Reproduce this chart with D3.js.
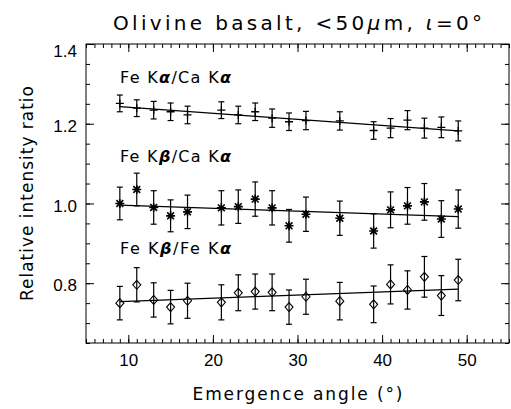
<!DOCTYPE html>
<html>
<head>
<meta charset="utf-8">
<script src="https://cdn.jsdelivr.net/npm/d3@7"></script>
<style>
  body { margin: 0; background: #fff; }
  svg { display: block; font-family: 'DejaVu Sans', sans-serif; }
  .axis path { display: none; }
  .axis line { stroke: #000; stroke-width: 1; }
  .axis text { font-size: 17px; fill: #000; }
</style>
</head>
<body>
<div class="graph"></div>
<script>
// emergence angles (deg)
const angles = [9, 11, 13, 15, 17, 21, 23, 25, 27, 29, 31, 35, 39, 41, 43, 45, 47, 49];

// Fe Ka / Ca Ka
const feKaCaKa = [1.251, 1.239, 1.234, 1.230, 1.222, 1.234, 1.222, 1.230, 1.214, 1.205, 1.208, 1.207, 1.183, 1.189, 1.209, 1.189, 1.191, 1.182];
const feKaCaKaErr = [0.021, 0.021, 0.022, 0.022, 0.022, 0.021, 0.022, 0.022, 0.023, 0.022, 0.023, 0.023, 0.022, 0.024, 0.024, 0.025, 0.026, 0.025];

// Fe Kb / Ca Ka
const feKbCaKa = [1.000, 1.035, 0.990, 0.969, 0.979, 0.989, 0.992, 1.011, 0.989, 0.944, 0.973, 0.963, 0.931, 0.984, 0.994, 1.004, 0.961, 0.986];
const feKbCaKaErr = [0.041, 0.041, 0.042, 0.040, 0.042, 0.043, 0.042, 0.043, 0.043, 0.041, 0.043, 0.043, 0.043, 0.045, 0.046, 0.046, 0.046, 0.048];

// Fe Kb / Fe Ka
const feKbFeKa = [0.750, 0.796, 0.758, 0.740, 0.756, 0.752, 0.776, 0.779, 0.777, 0.740, 0.766, 0.755, 0.747, 0.797, 0.783, 0.816, 0.769, 0.808];
const feKbFeKaErr = [0.042, 0.043, 0.043, 0.042, 0.044, 0.044, 0.045, 0.044, 0.046, 0.043, 0.044, 0.047, 0.046, 0.049, 0.048, 0.051, 0.050, 0.052];

// linear fits, end points
const fitX = [9, 49];
const fitKaCa = [1.243, 1.182];
const fitKbCa = [0.996, 0.967];
const fitKbFe = [0.754, 0.785];

const xTicks = [10, 20, 30, 40, 50];
const yTicks = [0.8, 1.0, 1.2, 1.4];
const xMinor = d3.range(5, 55.5, 1);
const yMinor = d3.range(0.65, 1.401, 0.05);

const width = 511, height = 409;
const margin = { top: 44, right: 2, bottom: 66, left: 86 };
const w = width - margin.left - margin.right;
const h = height - margin.top - margin.bottom;

const svg = d3.select('.graph')
    .append('svg')
    .attr('width', width)
    .attr('height', height);

const chart = svg.append('g')
    .attr('transform', `translate(${margin.left},${margin.top})`);

const x = d3.scaleLinear().domain([5, 55]).range([0, w]);
const y = d3.scaleLinear().domain([0.65, 1.4]).range([h, 0]);

// minor ticks on all four sides
chart.append('g').classed('axis', true).attr('transform', `translate(0,${h})`)
    .call(d3.axisBottom(x).tickValues(xMinor).tickSize(-4).tickFormat(''));
chart.append('g').classed('axis', true)
    .call(d3.axisTop(x).tickValues(xMinor).tickSize(-4).tickFormat(''));
chart.append('g').classed('axis', true)
    .call(d3.axisLeft(y).tickValues(yMinor).tickSize(-4).tickFormat(''));
chart.append('g').classed('axis', true).attr('transform', `translate(${w},0)`)
    .call(d3.axisRight(y).tickValues(yMinor).tickSize(-4).tickFormat(''));

// major ticks
chart.append('g').classed('axis', true).attr('transform', `translate(0,${h})`)
    .call(d3.axisBottom(x).tickValues(xTicks).tickSize(-8).tickPadding(18).tickFormat(d3.format('d')))
    .selectAll('text').attr('dy', '0.3em');
chart.append('g').classed('axis', true)
    .call(d3.axisTop(x).tickValues(xTicks).tickSize(-8).tickFormat(''));
const yAxis = chart.append('g').classed('axis', true)
    .call(d3.axisLeft(y).tickValues(yTicks).tickSize(-8).tickPadding(9).tickFormat(d3.format('.1f')));
yAxis.selectAll('text').attr('dy', d => d === 1.4 ? '0.75em' : '0.45em');
chart.append('g').classed('axis', true).attr('transform', `translate(${w},0)`)
    .call(d3.axisRight(y).tickValues(yTicks).tickSize(-8).tickFormat(''));

chart.append('rect')
    .attr('width', w)
    .attr('height', h)
    .attr('fill', 'none')
    .attr('stroke', '#000')
    .attr('stroke-width', 1);

const markers = {
    plus: 'M-4,0H4M0,-4V4',
    star: 'M-4.5,0H4.5M0,-4.5V4.5M-3.4,-3.4L3.4,3.4M-3.4,3.4L3.4,-3.4',
    diamond: 'M0,-4.5L4,0L0,4.5L-4,0Z'
};

const series = [
    { vals: feKaCaKa, err: feKaCaKaErr, fit: fitKaCa, mark: 'plus', sw: 1.3 },
    { vals: feKbCaKa, err: feKbCaKaErr, fit: fitKbCa, mark: 'star', sw: 1.6 },
    { vals: feKbFeKa, err: feKbFeKaErr, fit: fitKbFe, mark: 'diamond', sw: 1.1 }
];

const line = d3.line().x(d => x(d[0])).y(d => y(d[1]));

series.forEach(s => {
    const pts = angles.map((a, i) => ({ a: a, v: s.vals[i], e: s.err[i] }));
    const g = chart.append('g');

    g.append('path')
        .attr('d', line(fitX.map((fx, i) => [fx, s.fit[i]])))
        .attr('fill', 'none')
        .attr('stroke', '#000')
        .attr('stroke-width', 1.2);

    const bars = g.selectAll('.bar')
        .data(pts)
        .enter()
        .append('g')
        .attr('stroke', '#000')
        .attr('stroke-width', 1.2);
    bars.append('line')
        .attr('x1', d => x(d.a)).attr('x2', d => x(d.a))
        .attr('y1', d => y(d.v - d.e)).attr('y2', d => y(d.v + d.e));
    bars.append('line')
        .attr('x1', d => x(d.a) - 3).attr('x2', d => x(d.a) + 3)
        .attr('y1', d => y(d.v + d.e)).attr('y2', d => y(d.v + d.e));
    bars.append('line')
        .attr('x1', d => x(d.a) - 3).attr('x2', d => x(d.a) + 3)
        .attr('y1', d => y(d.v - d.e)).attr('y2', d => y(d.v - d.e));

    g.selectAll('.mark')
        .data(pts)
        .enter()
        .append('path')
        .attr('transform', d => `translate(${x(d.a)},${y(d.v)})`)
        .attr('d', markers[s.mark])
        .attr('fill', 'none')
        .attr('stroke', '#000')
        .attr('stroke-width', s.sw);
});

// series labels
const labels = [
    { parts: ['Fe K', 'α', '/Ca K', 'α'], y: 83 },
    { parts: ['Fe K', 'β', '/Ca K', 'α'], y: 162 },
    { parts: ['Fe K', 'β', '/Fe K', 'α'], y: 254 }
];
labels.forEach(l => {
    const t = svg.append('text')
        .attr('x', 120)
        .attr('y', l.y)
        .attr('textLength', 111)
        .attr('lengthAdjust', 'spacing')
        .style('font-size', '16px');
    l.parts.forEach((p, i) => {
        const ts = t.append('tspan').text(p);
        if (i % 2 === 1) ts.style('font-style', 'italic').style('font-weight', 'bold');
    });
});

// title
const title = svg.append('text')
    .attr('x', margin.left + w / 2)
    .attr('y', 30)
    .attr('text-anchor', 'middle')
    .attr('textLength', 369)
    .attr('lengthAdjust', 'spacing')
    .style('font-size', '20px');
title.append('tspan').text('Olivine basalt, <50');
title.append('tspan').text('μ').style('font-style', 'italic');
title.append('tspan').text('m, ');
title.append('tspan').text('ι').style('font-style', 'italic');
title.append('tspan').text('=0°');

svg.append('text')
    .attr('x', margin.left + w / 2)
    .attr('y', 400)
    .attr('text-anchor', 'middle')
    .attr('textLength', 210)
    .attr('lengthAdjust', 'spacing')
    .style('font-size', '17px')
    .text('Emergence angle (°)');

svg.append('text')
    .attr('transform', `translate(33,${margin.top + h / 2}) rotate(-90)`)
    .attr('text-anchor', 'middle')
    .attr('textLength', 215)
    .attr('lengthAdjust', 'spacing')
    .style('font-size', '17px')
    .text('Relative intensity ratio');
</script>
</body>
</html>
